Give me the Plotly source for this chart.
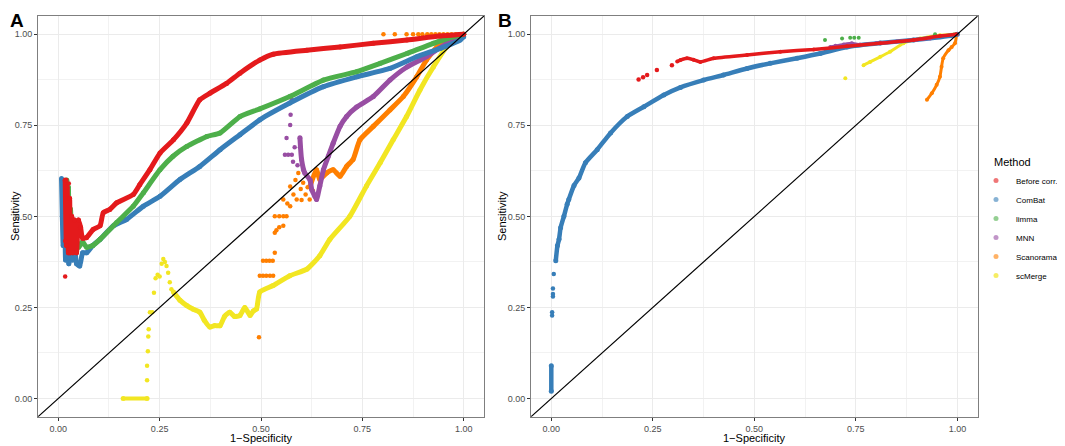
import plotly.graph_objects as go

# ---------------- data ----------------
METHODS = ["Before corr.", "ComBat", "limma", "MNN", "Scanorama", "scMerge"]
COLORS = {"Before corr.": "#E41A1C", "ComBat": "#377EB8", "limma": "#4DAF4A",
          "MNN": "#984EA3", "Scanorama": "#FF7F00", "scMerge": "#F2E622"}
LEGEND_COLORS = {"Before corr.": "rgba(228,26,28,0.6)", "ComBat": "rgba(55,126,184,0.6)",
                 "limma": "rgba(77,175,74,0.6)", "MNN": "rgba(152,78,163,0.6)",
                 "Scanorama": "rgba(255,127,0,0.6)", "scMerge": "rgba(242,230,34,0.7)"}
TICKS = [0, 0.25, 0.5, 0.75, 1.0]
TICK_LABELS = ["0.00", "0.25", "0.50", "0.75", "1.00"]
MINOR_TICKS = [0.125, 0.375, 0.625, 0.875]
AX_RANGE = [-0.05, 1.05]

# Panel A — dense curves
A_red_x = [0.017, 0.02, 0.022, 0.025, 0.028, 0.03, 0.033, 0.036, 0.04, 0.045, 0.05, 0.055, 0.06, 0.07,
           0.086, 0.103, 0.111, 0.127, 0.144, 0.185, 0.201, 0.226, 0.251, 0.284, 0.317, 0.349, 0.374,
           0.415, 0.448, 0.497, 0.53, 0.613, 0.695, 0.777, 0.86, 0.94, 1.0]
A_red_y = [0.60, 0.42, 0.58, 0.40, 0.55, 0.40, 0.50, 0.40, 0.49, 0.40, 0.49, 0.47, 0.44, 0.442,
           0.464, 0.474, 0.51, 0.519, 0.537, 0.56, 0.587, 0.628, 0.674, 0.71, 0.756, 0.82, 0.838,
           0.865, 0.893, 0.929, 0.945, 0.956, 0.965, 0.975, 0.984, 0.995, 1.0]
A_red_pts_x = [0.017, 0.017, 0.02, 0.026]
A_red_pts_y = [0.335, 0.432, 0.60, 0.59]

A_blue_x = [0.008, 0.01, 0.012, 0.015, 0.018, 0.022, 0.026, 0.03, 0.035, 0.04, 0.045, 0.053, 0.06, 0.07,
            0.085, 0.103, 0.136, 0.169, 0.21, 0.251, 0.30, 0.349, 0.399, 0.448, 0.497, 0.571, 0.654,
            0.736, 0.818, 0.884, 0.942, 0.991, 1.0]
A_blue_y = [0.604, 0.50, 0.42, 0.55, 0.38, 0.47, 0.37, 0.45, 0.38, 0.43, 0.37, 0.364, 0.40, 0.40,
            0.42, 0.437, 0.474, 0.492, 0.528, 0.555, 0.601, 0.637, 0.683, 0.724, 0.765, 0.811, 0.856,
            0.883, 0.906, 0.938, 0.961, 0.984, 0.993]

A_green_x = [0.021, 0.023, 0.025, 0.027, 0.03, 0.035, 0.04, 0.05, 0.06, 0.07, 0.085, 0.103, 0.144,
             0.185, 0.21, 0.251, 0.283, 0.317, 0.366, 0.399, 0.448, 0.497, 0.571, 0.654, 0.736,
             0.794, 0.86, 0.925, 0.974, 1.0]
A_green_y = [0.60, 0.46, 0.58, 0.44, 0.52, 0.42, 0.46, 0.415, 0.43, 0.415, 0.42, 0.437, 0.483,
             0.528, 0.565, 0.628, 0.665, 0.692, 0.719, 0.729, 0.774, 0.795, 0.829, 0.874, 0.897,
             0.92, 0.947, 0.975, 0.993, 1.0]

A_purple_x = [0.596, 0.60, 0.608, 0.621, 0.625, 0.633, 0.637, 0.645, 0.654, 0.666, 0.678, 0.695,
              0.711, 0.736, 0.777, 0.818, 0.86, 0.908, 0.958, 1.0]
A_purple_y = [0.716, 0.656, 0.619, 0.60, 0.574, 0.555, 0.546, 0.583, 0.628, 0.665, 0.701, 0.747,
              0.774, 0.80, 0.829, 0.874, 0.91, 0.938, 0.975, 1.0]
A_purple_pts_x = [0.576, 0.573, 0.572, 0.563, 0.559, 0.567, 0.576, 0.579, 0.59, 0.604, 0.583, 0.596]
A_purple_pts_y = [0.82, 0.779, 0.751, 0.715, 0.669, 0.669, 0.669, 0.65, 0.64, 0.628, 0.69, 0.69]

A_orange_x = [0.621, 0.637, 0.645, 0.662, 0.678, 0.695, 0.711, 0.727, 0.744, 0.777, 0.818, 0.851,
              0.884, 0.908, 0.942, 0.974, 1.0]
A_orange_y = [0.583, 0.628, 0.601, 0.619, 0.628, 0.61, 0.637, 0.656, 0.71, 0.747, 0.792, 0.829,
              0.883, 0.929, 0.975, 0.995, 1.0]
A_orange_pts_x = [0.495, 0.497, 0.505, 0.513, 0.522, 0.53, 0.505, 0.513, 0.521, 0.529, 0.534, 0.534,
                  0.538, 0.545, 0.555, 0.534, 0.545, 0.555, 0.563, 0.555, 0.565, 0.572, 0.572, 0.58,
                  0.588, 0.585, 0.592, 0.598, 0.604, 0.61, 0.615, 0.62, 0.628, 0.60,
                  0.802, 0.83, 0.859, 0.875, 0.888, 0.898, 0.91, 0.92, 0.93, 0.94, 0.95, 0.96,
                  0.97, 0.98, 0.99]
A_orange_pts_y = [0.168, 0.337, 0.337, 0.337, 0.337, 0.337, 0.378, 0.378, 0.378, 0.378, 0.40, 0.455,
                  0.462, 0.47, 0.474, 0.50, 0.50, 0.50, 0.50, 0.546, 0.535, 0.528, 0.582, 0.56,
                  0.546, 0.60, 0.619, 0.575, 0.592, 0.56, 0.58, 0.546, 0.57, 0.545,
                  1.0, 1.0, 1.0, 1.0, 1.0, 1.0, 1.0, 1.0, 1.0, 1.0, 1.0, 1.0,
                  1.0, 1.0, 1.0]

A_yellow_x = [0.284, 0.30, 0.317, 0.333, 0.349, 0.36, 0.374, 0.385, 0.399, 0.41, 0.423, 0.435,
              0.448, 0.46, 0.473, 0.481, 0.489, 0.497, 0.53, 0.571, 0.613, 0.645, 0.67, 0.719,
              0.76, 0.794, 0.826, 0.859, 0.892, 0.925, 0.958, 0.991, 1.0]
A_yellow_y = [0.292, 0.27, 0.255, 0.245, 0.237, 0.215, 0.196, 0.20, 0.20, 0.225, 0.237, 0.225,
              0.228, 0.25, 0.228, 0.24, 0.246, 0.292, 0.31, 0.337, 0.355, 0.392, 0.437, 0.50,
              0.583, 0.647, 0.71, 0.774, 0.847, 0.91, 0.965, 0.997, 1.0]
A_yellow_flat_x = [0.16, 0.219]
A_yellow_flat_y = [0.0, 0.0]
A_yellow_pts_x = [0.219, 0.219, 0.221, 0.222, 0.223, 0.226, 0.232, 0.236, 0.24, 0.245, 0.25, 0.255,
                  0.259, 0.263, 0.267, 0.271, 0.275, 0.279]
A_yellow_pts_y = [0.05, 0.09, 0.13, 0.17, 0.19, 0.237, 0.237, 0.29, 0.33, 0.34, 0.335, 0.37,
                  0.383, 0.375, 0.364, 0.345, 0.319, 0.30]

# Panel B
B_red_x = [0.31, 0.318, 0.334, 0.35, 0.367, 0.40, 0.482, 0.564, 0.646, 0.728, 0.81, 0.892, 0.957, 0.998]
B_red_y = [0.925, 0.929, 0.934, 0.93, 0.924, 0.934, 0.943, 0.952, 0.958, 0.967, 0.975, 0.984, 0.995, 1.0]
B_red_pts_x = [0.215, 0.226, 0.236, 0.26, 0.297]
B_red_pts_y = [0.876, 0.882, 0.888, 0.902, 0.915]

B_blue_x = [0.011, 0.015, 0.019, 0.023, 0.031, 0.039, 0.043, 0.056, 0.068, 0.084, 0.113, 0.146,
            0.187, 0.228, 0.277, 0.318, 0.375, 0.424, 0.482, 0.539, 0.605, 0.662, 0.728, 0.81,
            0.892, 0.99, 1.0]
B_blue_y = [0.378, 0.419, 0.437, 0.469, 0.50, 0.533, 0.546, 0.585, 0.605, 0.647, 0.683, 0.729,
            0.774, 0.801, 0.833, 0.854, 0.874, 0.888, 0.906, 0.92, 0.934, 0.947, 0.965, 0.976,
            0.984, 0.997, 1.0]
B_blue_stem_x = [0.0, 0.0]
B_blue_stem_y = [0.02, 0.09]
B_blue_pts_x = [0.002, 0.002, 0.004, 0.004, 0.004, 0.006]
B_blue_pts_y = [0.228, 0.237, 0.28, 0.287, 0.302, 0.342]

B_green_pts_x = [0.674, 0.716, 0.736, 0.746, 0.757, 0.945]
B_green_pts_y = [0.984, 0.988, 0.99, 0.99, 0.99, 1.0]

B_purple_x = [0.687, 0.70, 0.72, 0.74, 0.76, 0.80, 0.85, 0.90, 0.933]
B_purple_y = [0.965, 0.968, 0.972, 0.975, 0.972, 0.975, 0.98, 0.985, 0.988]

B_yellow_x = [0.769, 0.785, 0.81, 0.834, 0.867, 0.908, 0.957, 0.994]
B_yellow_y = [0.915, 0.924, 0.938, 0.952, 0.975, 0.988, 0.997, 1.0]
B_yellow_pts_x = [0.724]
B_yellow_pts_y = [0.879]

B_orange_x = [0.925, 0.937, 0.949, 0.957, 0.961, 0.965, 0.978, 0.986, 0.994, 0.998]
B_orange_y = [0.82, 0.838, 0.861, 0.883, 0.911, 0.934, 0.956, 0.965, 0.975, 0.997]

# ---------------- figure ----------------
fig = go.Figure()
FONT = "Liberation Sans, Arial, sans-serif"

# the page body has an 8px margin: size the figure to the visible window
OFF = 8
W, H = 1065 - OFF, 446 - OFF


def sx(px):
    return (px - OFF) / W


def sy(py):
    return 1 - (py - OFF) / H


def dense(x, y, method, xa, ya, lw=5, ms=5, shape="spline"):
    fig.add_trace(go.Scatter(x=x, y=y, mode="lines+markers", xaxis=xa, yaxis=ya,
                             line=dict(color=COLORS[method], width=lw, shape=shape, smoothing=0.5),
                             marker=dict(color=COLORS[method], size=ms),
                             showlegend=False, hoverinfo="skip"))


def pts(x, y, method, xa, ya, ms=4.5):
    fig.add_trace(go.Scatter(x=x, y=y, mode="markers", xaxis=xa, yaxis=ya,
                             marker=dict(color=COLORS[method], size=ms),
                             showlegend=False, hoverinfo="skip"))


# Panel A
dense(A_yellow_x, A_yellow_y, "scMerge", "x", "y")
dense(A_yellow_flat_x, A_yellow_flat_y, "scMerge", "x", "y", lw=4, shape="linear")
pts(A_yellow_pts_x, A_yellow_pts_y, "scMerge", "x", "y")
dense(A_orange_x, A_orange_y, "Scanorama", "x", "y")
pts(A_orange_pts_x, A_orange_pts_y, "Scanorama", "x", "y")
dense(A_purple_x, A_purple_y, "MNN", "x", "y")
pts(A_purple_pts_x, A_purple_pts_y, "MNN", "x", "y")
dense(A_blue_x, A_blue_y, "ComBat", "x", "y")
dense(A_green_x, A_green_y, "limma", "x", "y")
dense(A_red_x, A_red_y, "Before corr.", "x", "y")
pts(A_red_pts_x, A_red_pts_y, "Before corr.", "x", "y")

# Panel B
dense(B_orange_x, B_orange_y, "Scanorama", "x2", "y2", lw=3, ms=4)
dense(B_yellow_x, B_yellow_y, "scMerge", "x2", "y2", lw=3, ms=4)
pts(B_yellow_pts_x, B_yellow_pts_y, "scMerge", "x2", "y2", ms=4)
dense(B_blue_x, B_blue_y, "ComBat", "x2", "y2", lw=4.5)
dense(B_blue_stem_x, B_blue_stem_y, "ComBat", "x2", "y2", lw=4.5, shape="linear")
pts(B_blue_pts_x, B_blue_pts_y, "ComBat", "x2", "y2")
pts(B_green_pts_x, B_green_pts_y, "limma", "x2", "y2", ms=4)
dense(B_purple_x, B_purple_y, "MNN", "x2", "y2", lw=3, ms=4)
dense(B_red_x, B_red_y, "Before corr.", "x2", "y2", lw=3.5, ms=4)
pts(B_red_pts_x, B_red_pts_y, "Before corr.", "x2", "y2")

# diagonal reference lines spanning the full panel
for xa, ya in (("x", "y"), ("x2", "y2")):
    fig.add_trace(go.Scatter(x=AX_RANGE, y=AX_RANGE, mode="lines", xaxis=xa, yaxis=ya,
                             line=dict(color="black", width=1.2), showlegend=False,
                             hoverinfo="skip"))

# legend entries
for m in METHODS:
    fig.add_trace(go.Scatter(x=[None], y=[None], mode="markers", name=m,
                             marker=dict(color=LEGEND_COLORS[m], size=5)))


def axis(domain, anchor):
    return dict(domain=domain, anchor=anchor, range=AX_RANGE, tickvals=TICKS, ticktext=TICK_LABELS,
                showgrid=True, gridcolor="#EBEBEB", gridwidth=1,
                minor=dict(tickvals=MINOR_TICKS, showgrid=True, gridcolor="#F2F2F2", gridwidth=0.6,
                           ticks=""),
                showline=True, mirror=True, linecolor="#7F7F7F", linewidth=1,
                ticks="outside", ticklen=3, tickcolor="#333333", tickwidth=1,
                tickfont=dict(family=FONT, size=9, color="#4D4D4D"), zeroline=False,
                automargin=False)


ydom = [sy(416.7), sy(16)]
fig.update_layout(
    width=W, height=H, margin=dict(l=0, r=0, t=0, b=0, autoexpand=False),
    paper_bgcolor="white", plot_bgcolor="white",
    font=dict(family=FONT, color="black"),
    xaxis=axis([sx(38), sx(484)], "y"),
    yaxis=axis(ydom, "x"),
    xaxis2=axis([sx(531), sx(977.7)], "y2"),
    yaxis2=axis(ydom, "x2"),
    legend=dict(x=sx(976), y=sy(166), xanchor="left", yanchor="top",
                font=dict(size=8, family=FONT), itemsizing="trace",
                bgcolor="rgba(0,0,0,0)", tracegroupgap=0),
    showlegend=True,
)

ann = [
    dict(text="<b>A</b>", x=sx(8), y=sy(8), xanchor="left", yanchor="top", font=dict(size=19)),
    dict(text="<b>B</b>", x=sx(496), y=sy(8), xanchor="left", yanchor="top", font=dict(size=19)),
    dict(text="1\u2212Specificity", x=sx(261), y=sy(438), xanchor="center", yanchor="middle",
         font=dict(size=11)),
    dict(text="1\u2212Specificity", x=sx(754), y=sy(438), xanchor="center", yanchor="middle",
         font=dict(size=11)),
    dict(text="Sensitivity", x=sx(15), y=sy(216), textangle=-90, xanchor="center",
         yanchor="middle", font=dict(size=11)),
    dict(text="Sensitivity", x=sx(502), y=sy(216), textangle=-90, xanchor="center",
         yanchor="middle", font=dict(size=11)),
    dict(text="Method", x=sx(992), y=sy(162), xanchor="left", yanchor="middle",
         font=dict(size=11)),
]
for a in ann:
    a.update(xref="paper", yref="paper", showarrow=False)
fig.update_layout(annotations=ann)

fig.write_html("out.html")
